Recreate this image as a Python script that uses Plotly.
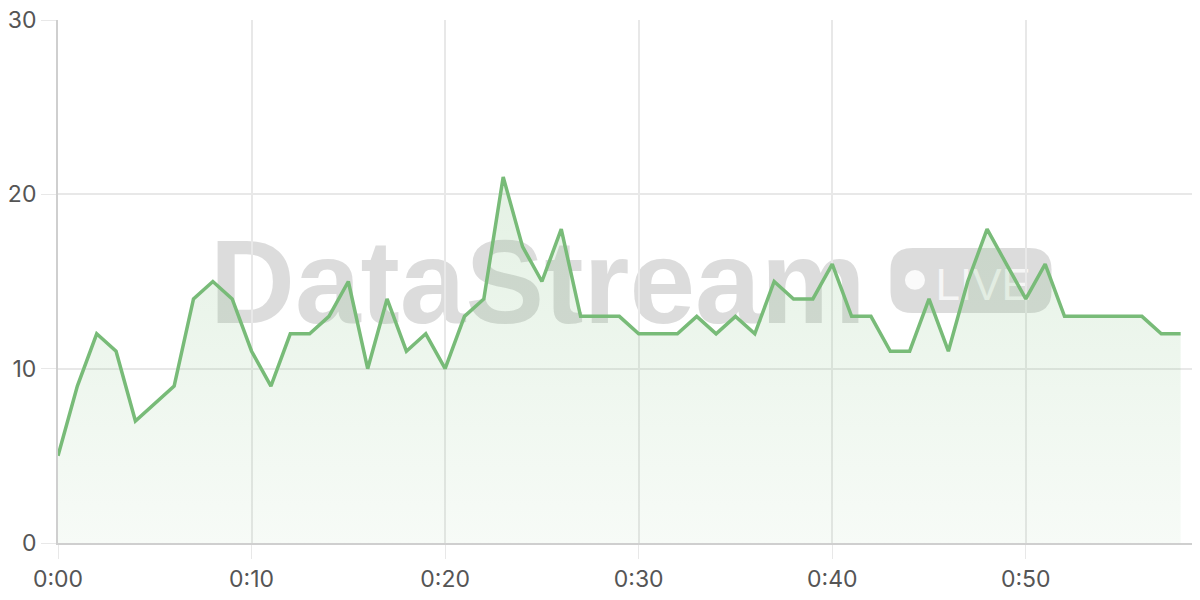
import plotly.graph_objects as go

# one reading per minute, 0:00 .. 0:58
minutes = list(range(59))
values = [
    5, 9, 12, 11, 7, 8, 9, 14, 15, 14,
    11, 9, 12, 12, 13, 15, 10, 14, 11, 12,
    10, 13, 14, 21, 17, 15, 18, 13, 13, 13,
    12, 12, 12, 13, 12, 13, 12, 15, 14, 14,
    16, 13, 13, 11, 11, 14, 11, 15, 18, 16,
    14, 16, 13, 13, 13, 13, 13, 12, 12,
]
x_ticks = [0, 10, 20, 30, 40, 50]
x_tick_labels = ["0:00", "0:10", "0:20", "0:30", "0:40", "0:50"]
y_ticks = [0, 10, 20, 30]

LINE = "#78bb78"
GRID = "#e8e8e8"
AXIS = "#cfcfcf"
TEXT = "#555555"
WATERMARK = "rgba(110,110,110,0.24)"

# page body adds an 8px margin, so the figure is 8px smaller each way
W, H = 1192, 592
M = dict(l=50, r=0, t=12, b=57)
PW, PH = W - M["l"] - M["r"], H - M["t"] - M["b"]


def pill_path(x0, x1, y0, y1, r):
    """Rounded rectangle in paper coords; corners given in pixels."""
    rx, ry = r / PW, r / PH
    return (
        f"M {x0 + rx},{y0} L {x1 - rx},{y0} "
        f"Q {x1},{y0} {x1},{y0 + ry} L {x1},{y1 - ry} "
        f"Q {x1},{y1} {x1 - rx},{y1} L {x0 + rx},{y1} "
        f"Q {x0},{y1} {x0},{y1 - ry} L {x0},{y0 + ry} "
        f"Q {x0},{y0} {x0 + rx},{y0} Z"
    )


fig = go.Figure()
fig.add_trace(
    go.Scatter(
        x=minutes,
        y=values,
        mode="lines",
        line=dict(color=LINE, width=3.5),
        fill="tozeroy",
        fillgradient=dict(
            type="vertical",
            colorscale=[[0, "rgba(120,187,120,0.06)"], [1, "rgba(120,187,120,0.20)"]],
        ),
        hoverinfo="x+y",
        showlegend=False,
    )
)

# "DataStream LIVE" watermark, kept between the grid and the line
fig.add_shape(
    type="rect",
    xref="paper", yref="paper",
    x0=0.13, x1=0.71, y0=0.40, y1=0.64,
    line=dict(width=0),
    fillcolor="rgba(0,0,0,0)",
    layer="between",
    label=dict(
        text="<b>DataStream</b>",
        textposition="middle center",
        font=dict(family="Liberation Sans", size=118, color=WATERMARK),
    ),
)
fig.add_shape(
    type="path",
    xref="paper", yref="paper",
    path=pill_path(0.729, 0.870, 0.44, 0.564, 22),
    line=dict(width=0),
    fillcolor=WATERMARK,
    layer="between",
    label=dict(
        text="  LIVE",
        textposition="middle center",
        font=dict(family="Liberation Sans", size=44, color="rgba(255,255,255,0.75)"),
    ),
)
fig.add_shape(
    type="circle",
    xref="paper", yref="paper",
    x0=0.7416, x1=0.7592, y0=0.484, y1=0.522,
    line=dict(width=0),
    fillcolor="rgba(255,255,255,0.85)",
    layer="between",
)

fig.update_layout(
    width=W,
    height=H,
    paper_bgcolor="white",
    plot_bgcolor="white",
    margin=M,
    font=dict(family="Inter", size=23, color=TEXT),
)
fig.update_xaxes(
    range=[0, 59],
    tickvals=x_ticks,
    ticktext=x_tick_labels,
    showgrid=True,
    gridcolor=GRID,
    gridwidth=1.5,
    ticks="outside",
    ticklen=14,
    tickcolor=GRID,
    showline=True,
    linecolor=AXIS,
    linewidth=2,
    zeroline=False,
    automargin=False,
    ticklabeloverflow="allow",
)
fig.update_yaxes(
    range=[0, 30],
    tickvals=y_ticks,
    showgrid=True,
    gridcolor=GRID,
    gridwidth=1.5,
    ticks="outside",
    ticklen=15,
    tickcolor=GRID,
    showline=True,
    linecolor=AXIS,
    linewidth=2,
    zeroline=False,
    automargin=False,
    ticklabeloverflow="allow",
)

fig.write_html("out.html")
